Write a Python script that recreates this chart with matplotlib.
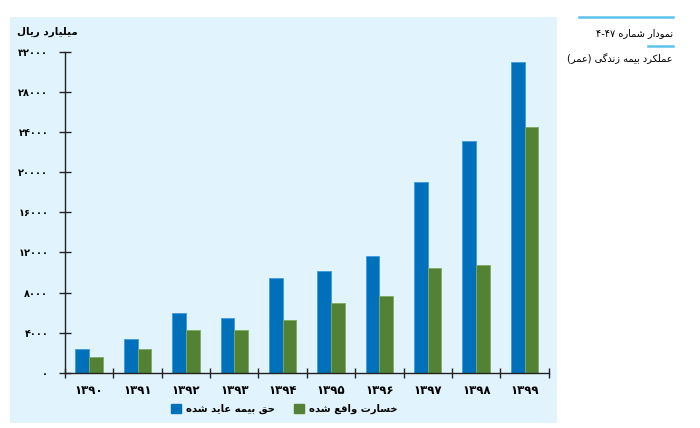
import matplotlib
matplotlib.use("Agg")
import matplotlib.pyplot as plt
from matplotlib.patches import Rectangle, Patch
from matplotlib.lines import Line2D
import numpy as np

# داده‌ها (میلیارد ریال)
years = ["۱۳۹۰", "۱۳۹۱", "۱۳۹۲", "۱۳۹۳", "۱۳۹۴", "۱۳۹۵", "۱۳۹۶", "۱۳۹۷", "۱۳۹۸", "۱۳۹۹"]
premium = [2400, 3400, 5950, 5500, 9450, 10150, 11650, 19000, 23050, 31000]
claims = [1600, 2400, 4250, 4300, 5300, 6950, 7650, 10450, 10750, 24450]
yticks = [0, 4000, 8000, 12000, 16000, 20000, 24000, 28000, 32000]

label_premium = "حق بیمه عاید شده"
label_claims = "خسارت واقع شده"
unit_label = "میلیارد ریال"
title1 = "نمودار شماره ۴-۴۷"
title2 = "عملکرد بیمه زندگی (عمر)"

blue = "#0070ba"
green = "#548235"
panel = "#e1f3fc"
cyan = "#5cc3ec"

# شکل‌دهی ساده حروف فارسی (matplotlib خودش این کار را نمی‌کند)
forms = {
    "ا": ("\uFE8D", "\uFE8E"), "د": ("\uFEA9", "\uFEAA"), "ر": ("\uFEAD", "\uFEAE"),
    "ز": ("\uFEAF", "\uFEB0"), "و": ("\uFEED", "\uFEEE"),
    "ب": ("\uFE8F", "\uFE90", "\uFE91", "\uFE92"), "ت": ("\uFE95", "\uFE96", "\uFE97", "\uFE98"),
    "ح": ("\uFEA1", "\uFEA2", "\uFEA3", "\uFEA4"), "خ": ("\uFEA5", "\uFEA6", "\uFEA7", "\uFEA8"),
    "س": ("\uFEB1", "\uFEB2", "\uFEB3", "\uFEB4"), "ش": ("\uFEB5", "\uFEB6", "\uFEB7", "\uFEB8"),
    "ع": ("\uFEC9", "\uFECA", "\uFECB", "\uFECC"), "ق": ("\uFED5", "\uFED6", "\uFED7", "\uFED8"),
    "ل": ("\uFEDD", "\uFEDE", "\uFEDF", "\uFEE0"), "م": ("\uFEE1", "\uFEE2", "\uFEE3", "\uFEE4"),
    "ن": ("\uFEE5", "\uFEE6", "\uFEE7", "\uFEE8"), "ه": ("\uFEE9", "\uFEEA", "\uFEEB", "\uFEEC"),
    "ی": ("\uFBFC", "\uFBFD", "\uFBFE", "\uFBFF"), "ک": ("\uFB8E", "\uFB8F", "\uFB90", "\uFB91"),
    "گ": ("\uFB92", "\uFB93", "\uFB94", "\uFB95"),
}
ltr_chars = set("۰۱۲۳۴۵۶۷۸۹-0123456789.")
mirror = {"(": ")", ")": "("}


def fa(text):
    out = []
    for i, ch in enumerate(text):
        if ch not in forms:
            out.append(mirror.get(ch, ch))
            continue
        f = forms[ch]
        prev = text[i - 1] if i > 0 else ""
        nxt = text[i + 1] if i + 1 < len(text) else ""
        join_prev = prev in forms and len(forms[prev]) == 4
        join_next = len(f) == 4 and nxt in forms
        if join_prev and join_next:
            out.append(f[3])
        elif join_prev:
            out.append(f[1])
        elif join_next:
            out.append(f[2])
        else:
            out.append(f[0])
    rev = out[::-1]
    res, run = [], []
    for ch in rev:
        if ch in ltr_chars:
            run.append(ch)
        else:
            res.extend(run[::-1])
            run = []
            res.append(ch)
    res.extend(run[::-1])
    return "".join(res)


def fa_num(n):
    return str(n).translate(str.maketrans("0123456789", "۰۱۲۳۴۵۶۷۸۹"))


plt.rcParams["font.family"] = ["DejaVu Sans"]

fig = plt.figure(figsize=(7, 4.28), dpi=100)
fig.add_artist(Rectangle((10 / 700, 1 - 423 / 428), 547 / 700, 406 / 428,
                         transform=fig.transFigure, facecolor=panel, edgecolor="none", zorder=-5))

ax = fig.add_axes([65 / 700, 1 - 373 / 428, 483.7 / 700, 321.5 / 428])
ax.set_facecolor("none")
ax.set_zorder(2)

x = np.arange(len(years))
w = 0.283
ax.bar(x - w / 2, premium, w, color=blue, edgecolor="#3f9be0", linewidth=0.6)
ax.bar(x + w / 2, claims, w, color=green, edgecolor="#7faa63", linewidth=0.6)

ax.set_xlim(-0.5, len(years) - 0.5)
ax.set_ylim(0, 32000)

for s in ["top", "right"]:
    ax.spines[s].set_visible(False)
for s in ["left", "bottom"]:
    ax.spines[s].set_linewidth(1.0)
    ax.spines[s].set_color("#222222")

ax.set_xticks(np.arange(len(years) + 1) - 0.5)
ax.set_xticklabels([])
ax.set_xticks(x, minor=True)
ax.set_xticklabels(years, minor=True, fontsize=8.5, fontweight="bold")
ax.tick_params(axis="x", which="major", direction="inout", length=7, width=1, color="#222222")
ax.tick_params(axis="x", which="minor", length=0, pad=8)

ax.set_yticks(yticks)
ax.set_yticklabels([fa_num(v) for v in yticks], fontsize=7, fontweight="bold")
ax.tick_params(axis="y", direction="inout", length=8, width=1, color="#222222", pad=8)

fig.text(78 / 700, 1 - 31.5 / 428, fa(unit_label), ha="right", va="center", fontsize=7.5, fontweight="bold")

# عنوان سمت راست
fig.add_artist(Line2D([579 / 700, 673 / 700], [1 - 17 / 428] * 2, color=cyan, linewidth=1.8))
fig.text(673 / 700, 1 - 33 / 428, fa(title1), ha="right", va="center", fontsize=7)
fig.add_artist(Line2D([648 / 700, 673 / 700], [1 - 46 / 428] * 2, color=cyan, linewidth=1.8))
fig.text(673 / 700, 1 - 59 / 428, fa(title2), ha="right", va="center", fontsize=7)

handles = [Patch(facecolor=blue, edgecolor=blue), Patch(facecolor=green, edgecolor=green)]
fig.legend(handles, [fa(label_premium), fa(label_claims)], ncol=2, frameon=False,
           loc="center", bbox_to_anchor=(284 / 700, 1 - 409 / 428),
           prop={"size": 7.2, "weight": "bold"}, handlelength=1.05, handleheight=1.05,
           handletextpad=0.45, columnspacing=1.9, borderaxespad=0)

fig.savefig("out.png", dpi=100, facecolor="white")
